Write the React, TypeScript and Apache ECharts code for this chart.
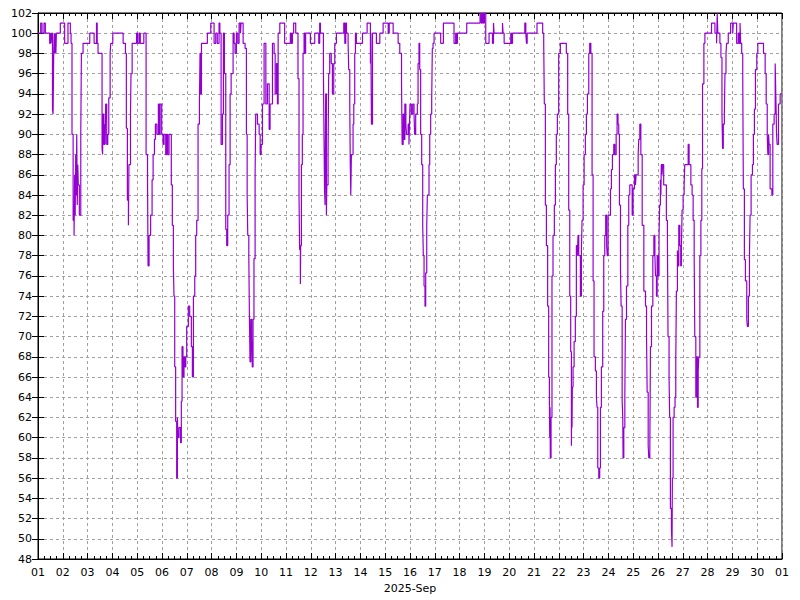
import React, { useEffect, useRef } from "react";
import * as echarts from "echarts";

// time in hours since 2025-09-01 00:00
const hours: number[] = [0,2.6,3.9,5.8,7.1,11.3,12,12.6,13.2,14,14.6,15.2,15.7,16.2,16.8,17.3,17.8,21.6,25.8,29,31.3,32,32.9,34,34.9,35.5,36,36.5,37,37.5,38,38.5,39,40,41.4,42,43.6,50.1,54.3,56.6,57.3,58.1,62,62.5,63,63.7,64.5,65,65.5,66.5,67.5,68.5,69.8,70.4,72.4,82.4,84.6,85.5,86.5,87.5,88,89.5,90,91.1,95.4,96.5,98,99,102.4,104.6,106,106.5,107.5,109,110.4,111.4,112.7,113.6,115,116.5,117.5,118.2,119.7,121,122,123.6,124.5,125.5,126.8,129,130,131,131.6,132.3,133.2,134.2,134.9,135.5,136.5,138,138.7,139.4,140.3,141.3,142.3,143,143.9,145.5,146.8,148.4,149.4,150.4,151.7,152.6,153.6,154.9,156.2,156.8,157.5,158.2,163.9,167.2,170.4,172,173.5,175.2,176,177.2,178.5,179.4,180.4,181.7,182.6,183.6,184.9,185.9,186.9,188.8,189.8,190.7,192,193.3,194.6,195.9,196.5,198.5,200.4,201.7,202.4,203,204,204.6,205.2,205.9,206.8,207.4,208.1,209,210.1,210.7,212.4,214,215,215.9,217.2,218.8,220.5,222,223.7,224.6,226.9,228.5,229.5,230.8,231.7,232.4,234,238.7,244.2,245.2,246.2,247.4,249.4,251.6,252.6,253.2,253.9,254.2,254.9,255.8,256.5,257.5,258.2,259,263.6,267.8,271.7,272.6,273.3,276.2,276.8,277.3,277.8,278.4,279.1,279.5,280.7,281.3,282.3,283.8,284.9,286.2,287.2,288.8,295.9,296.9,297.8,298.5,300.1,300.7,301.7,302.2,302.7,303.3,304.9,305.6,306.5,307.2,308.1,314,318.5,321.7,322.1,322.7,323.7,327.5,330.8,334,338.9,339.9,343.7,348.5,350.1,351.8,352.4,353.4,354.3,355,356,356.6,358.2,359,359.5,360,361.3,362.6,363.9,364.5,365.5,367.1,367.8,368.7,369.4,370.3,371.3,372.3,372.9,373.6,374.5,375.2,376.2,376.8,378.4,379.1,380,381,381.6,382.3,383.3,389.7,392.3,402.6,404.2,404.9,405.9,414.9,427.8,429,430,431,432,433.3,436.5,439.8,440.8,441.4,449.5,450.1,451.1,457.5,458.2,459.2,471.1,472.1,472.7,473.4,482.9,488.4,489.4,490,491,492,493.2,494.2,494.9,495.2,495.5,495.8,496.5,497.4,498.4,499.7,500.7,501.6,502.6,503.9,505.5,511.3,512.6,513.6,514.6,515.5,516.2,516.5,516.8,517.1,517.8,518.8,520,521,522,522.6,523.3,524.9,525.9,526.5,527.5,528.5,529.7,530.7,531.7,533,533.9,535,536.2,537.2,538.1,539.4,540.4,541,541.7,542.7,543.6,544.3,545.2,546.5,547.5,548.5,549.4,550.3,550.9,551.7,554,554.9,555.9,557.2,558.2,559.5,560.4,561.3,562,562.7,563.7,564.3,565.3,565.9,566.2,566.9,567.9,568.5,569.5,570.8,571.7,572.7,574.3,575,575.9,577.2,578.2,578.8,580.8,581.4,582.4,583.4,584.7,586.3,587.9,588.9,589.5,590.5,591.1,592.1,592.7,593.7,595,596,597,597.6,598.5,599.2,600,601,601.6,602.3,602.8,603.2,603.9,604.5,605.5,608.1,609.1,609.7,610.7,611.3,612,613,613.6,613.9,614.6,615.6,616.5,617.2,617.8,618.8,619.4,620.1,621.1,622,622.7,623.3,624.3,625.3,625.9,629.2,630.1,631.8,633,634,635,635.6,636.6,637.3,638.2,638.9,639.5,640.5,641.5,642.4,643.1,644.4,645.4,651.8,655.1,656.7,657.3,657.9,659.9,660.9,661.9,662.5,663.2,664.2,664.8,665.8,666.4,668,670.3,672.3,672.9,676.1,677.7,678.7,679.4,680,681,682,682.6,683.6,684.6,685.9,686.5,687.5,688.5,689.1,690.1,691.4,692.3,693.3,694.3,695.6,696.6,702.1,703.7,704.7,705.7,706.3,707,707.5,708.5,710.2,711.1,712.4,713.4,714,714.4,714.7,715.3,716.6,718.2,719.8,720];

const values: number[] = [100,101,100,101,100,99,100,99,100,92.5,92,98,100,98,100,98,100,101,99,101,100,99,90,81.5,80,86,82,88,84,90,83,87,85,82,90,98,99,100,99,101,99,98,88.6,88,92,89,91,89,93,89,90,93.6,98,99,100,99,98,90.6,83.5,81,87,92,96,99,100,99,100,99,100,88,85.5,77,80,82,85.5,88,89.5,91,90,93,90,93,90,89,90,88,90,88,90,85,81,77,74,67,61.6,56,62,60,61,59.5,63.6,69,66,68,67,68,71,73,72,69,66,74,76,80,81.5,91,93,98,94,99,100,101,99,100,99,101,100,89,92,100,96,80.6,79,82,87,94,96,100,99,98,100,99,101,100,101,99,98.5,90,84,80,78,72,67.5,71.7,70,67,71.7,77.7,86,92,91,90,88,89,93,99,93,95,90.5,93,99,98,94,97,93,100,101,99,100,99,100,101,100,95.5,84,78.6,75.2,79,87,90,98,100,98,100,99,100,99,101,100,96.4,89.6,84.5,83,94,82,85,88,96,98,97,94,97,99,100,101,99,101,100,99,96.4,93,87,84,88,91,93,98,100,99,100,101,97,100,91,100,99,100,101,100,101,100,99,98,95,89,92,89.5,93,91,90,91,89,91,93,92,93,92,90,92,93,97,99,96.4,90,87,81,78,75,73,76.3,81,84,87,90,92,93.5,98.5,99,100,99,101,99,100,99,100,101,102,101,102,101,102,99,100,99,101,100,101,100,99,100,99,100,101,100,99,100,101,100,99,93,83,79,73,66,64,60,63,58,62,76,80,83,87,90,92,98,99,98,92,82.5,74,68.5,59.2,64,61,65,67,69.5,72,79,78,80,78,74,78.6,81.5,85,88,90,92,94,98,99,98,86,75.5,68,66.6,64,63,57,56,57,63,67,72.5,78,80,82,79,78,82,84.6,86.5,88,89,88,90,92,91,90,83,76.6,73,63.7,62,58,61,64,71.7,75,81,84,85,85,82,84.6,86,85,86,88,89.5,91,88,81,74.5,73,70,64.5,59.2,58,59,69,73,78,80,78,76,74,78,76,80,83,85.5,84,87,86,87,85,81.5,80,70,66,62,53,51,49.2,56,62,63,64,67.6,74.5,78.5,77,81,79,77,79,82.5,84,85,87,89,87,85,84,81.5,78,70,64,68,63,66.6,68,78,81.5,86.6,95,99,100,101,100,99,102,100,99,97.6,92,88.6,91,92,96,98,99,100,101,100,101,99,100,99,101,99,98,96,84.6,77.6,75.5,71.7,71,74,78,82,86,87,90,92.5,96.4,98,99,98,96,93,90,88,90,89,84.6,84,91,92,97,94,92,90,89,93,94,94,94];

const yMin = 48;
const yMax = 102;
const yStep = 2;
const dayCount = 30;
const xTitle = "2025-Sep";

function dayLabel(v: number): string {
  const d = Math.round(v / 24) + 1;
  const n = d > dayCount ? d - dayCount : d;
  return n < 10 ? "0" + n : String(n);
}

export default function App() {
  const ref = useRef<HTMLDivElement>(null);
  useEffect(() => {
    if (!ref.current) return;
    const chart = echarts.init(ref.current, undefined, { renderer: "svg" });
    const data = hours.map((h, i) => [h, values[i]]);
    const font = "DejaVu Sans";
    const gridDash = { color: "#a0a0a0", width: 1, type: [3, 3] as any };
    chart.setOption({
      animation: false,
      backgroundColor: "#ffffff",
      grid: {
        left: 38,
        right: 18,
        top: 13,
        bottom: 41,
        show: true,
        borderColor: "#000",
        borderWidth: 1,
      },
      xAxis: [
        {
          type: "value",
          min: 0,
          max: dayCount * 24,
          interval: 24,
          position: "bottom",
          name: xTitle,
          nameLocation: "middle",
          nameGap: 24,
          nameTextStyle: { color: "#000", fontFamily: font, fontSize: 11 },
          axisLine: { show: true, lineStyle: { color: "#000", width: 1 } },
          axisTick: { show: true, inside: true, length: 6, lineStyle: { color: "#000" } },
          minorTick: { show: true, splitNumber: 4, length: 3, lineStyle: { color: "#000" } },
          axisLabel: {
            show: true,
            margin: 8,
            color: "#000",
            fontFamily: font,
            fontSize: 11,
            formatter: (v: number) => dayLabel(v),
          },
          splitLine: { show: true, lineStyle: gridDash },
        },
        {
          type: "value",
          min: 0,
          max: dayCount * 24,
          interval: 24,
          position: "top",
          axisLine: { show: true, lineStyle: { color: "#000", width: 1 } },
          axisTick: { show: true, inside: true, length: 6, lineStyle: { color: "#000" } },
          minorTick: { show: true, splitNumber: 4, length: 3, lineStyle: { color: "#000" } },
          axisLabel: { show: false },
          splitLine: { show: false },
        },
      ],
      yAxis: [
        {
          type: "value",
          min: yMin,
          max: yMax,
          interval: yStep,
          position: "left",
          axisLine: { show: true, lineStyle: { color: "#000", width: 1 } },
          axisTick: { show: true, inside: true, length: 6, lineStyle: { color: "#000" } },
          axisLabel: { show: true, margin: 6, color: "#000", fontFamily: font, fontSize: 11 },
          splitLine: { show: true, lineStyle: gridDash },
        },
        {
          type: "value",
          min: yMin,
          max: yMax,
          interval: yStep,
          position: "right",
          axisLine: { show: true, lineStyle: { color: "#000", width: 1 } },
          axisTick: { show: true, inside: true, length: 6, lineStyle: { color: "#000" } },
          axisLabel: { show: false },
          splitLine: { show: false },
        },
      ],
      series: [
        {
          type: "line",
          step: "end",
          xAxisIndex: 0,
          yAxisIndex: 0,
          data,
          showSymbol: false,
          symbol: "none",
          clip: true,
          lineStyle: { color: "#9400d3", width: 1.2 },
        },
      ],
    });
    return () => chart.dispose();
  }, []);
  return (
    <div
      ref={ref}
      style={{ position: "absolute", left: 0, top: 0, width: 800, height: 600, background: "#fff" }}
    />
  );
}
